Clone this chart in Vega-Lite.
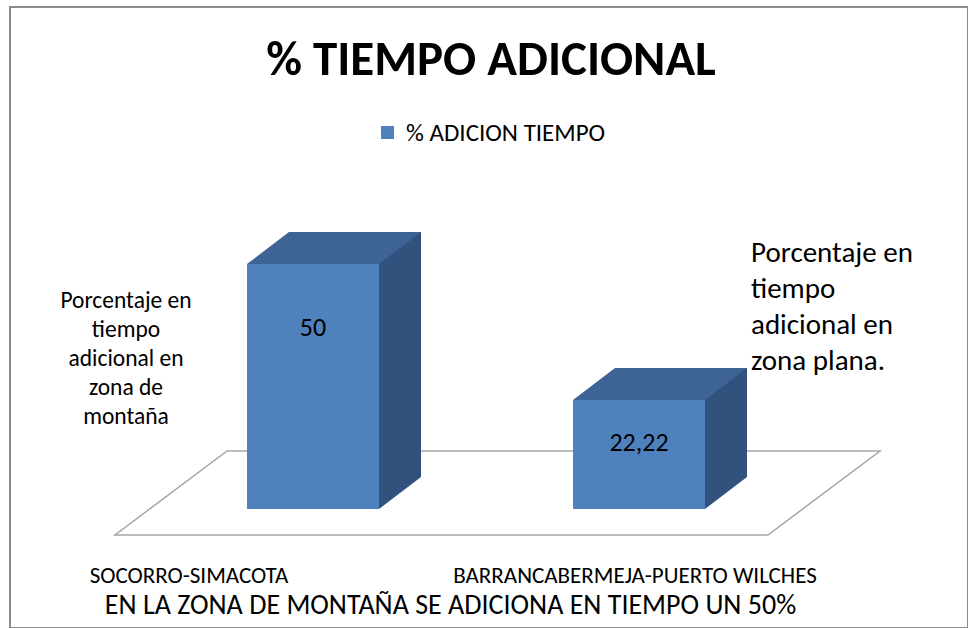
{
  "$schema": "https://vega.github.io/schema/vega-lite/v6.json",
  "width": 958,
  "height": 621,
  "autosize": {"type": "none"},
  "padding": {"left": 10, "top": 7, "right": 0, "bottom": 0},
  "background": "white",
  "view": {"stroke": "#8c8c8c", "strokeWidth": 2},
  "config": {
    "font": "Carlito, Calibri, Lato, sans-serif",
    "locale": {"number": {"decimal": ",", "thousands": ".", "grouping": [3], "currency": ["$", ""]}}
  },
  "title": {
    "text": "% TIEMPO ADICIONAL",
    "fontSize": 49,
    "fontWeight": "bold",
    "color": "#000000",
    "anchor": "middle",
    "baseline": "alphabetic",
    "offset": -117,
    "dx": 2
  },
  "data": {
    "values": [
      {"ruta": "SOCORRO-SIMACOTA", "serie": "% ADICION TIEMPO", "v": 50},
      {"ruta": "BARRANCABERMEJA-PUERTO WILCHES", "serie": "% ADICION TIEMPO", "v": 22.22}
    ]
  },
  "encoding": {
    "x": {
      "field": "ruta",
      "type": "nominal",
      "sort": null,
      "scale": {
        "domain": ["SOCORRO-SIMACOTA", "BARRANCABERMEJA-PUERTO WILCHES"],
        "paddingInner": 0.5951,
        "paddingOuter": 0.7669,
        "align": 0.474
      },
      "axis": {
        "title": "EN LA ZONA DE MONTAÑA SE ADICIONA EN TIEMPO UN 50%",
        "orient": "bottom",
        "domain": false,
        "ticks": false,
        "grid": false,
        "labelAngle": 0,
        "labelFontSize": 23,
        "labelColor": "#000000",
        "labelBaseline": "alphabetic",
        "labelPadding": 0,
        "labelLimit": 0,
        "labelOffset": {"condition": {"test": "datum.value == 'SOCORRO-SIMACOTA'", "value": -124}, "value": -4},
        "offset": -46,
        "titleFontSize": 28,
        "titleFontWeight": "normal",
        "titleColor": "#000000",
        "titleBaseline": "alphabetic",
        "titleAlign": "center",
        "titleX": 440,
        "titleY": 31
      }
    }
  },
  "layer": [
    {
      "transform": [{"filter": "datum.ruta == 'SOCORRO-SIMACOTA'"}],
      "mark": {
        "type": "point",
        "shape": "M -0.33 0.0433 L 0.7583 0.0433 L 0.945 -0.0967 L -0.1433 -0.0967 Z",
        "size": 1440000,
        "filled": false,
        "stroke": "#a6a6a6",
        "strokeWidth": 1.5,
        "opacity": 1
      },
      "encoding": {
        "y": {"datum": 0, "type": "quantitative", "axis": null, "scale": {"domain": [-24.286, 102.449], "nice": false, "zero": false}}
      }
    },
    {
      "mark": {"type": "bar", "color": "#32527E", "width": 42, "xOffset": 87, "yOffset": -32, "y2Offset": -32},
      "encoding": {
        "y": {"field": "v", "type": "quantitative", "axis": null, "scale": {"domain": [-24.286, 102.449], "nice": false, "zero": false}},
        "y2": {"datum": 0}
      }
    },
    {
      "mark": {
        "type": "point",
        "shape": "M 0.6111 -0.2963 L 1 -0.2963 L 0.6111 0 Z",
        "size": 46656,
        "filled": true,
        "color": "#32527E",
        "strokeWidth": 0,
        "opacity": 1
      },
      "encoding": {
        "y": {"datum": 0, "type": "quantitative", "axis": null}
      }
    },
    {
      "mark": {
        "type": "point",
        "shape": "M -0.6111 0 L 0.6111 0 L 1 -0.2963 L -0.2222 -0.2963 Z",
        "size": 46656,
        "filled": true,
        "color": "#3D6494",
        "strokeWidth": 0,
        "opacity": 1
      },
      "encoding": {
        "y": {"field": "v", "type": "quantitative", "axis": null}
      }
    },
    {
      "mark": {"type": "bar"},
      "encoding": {
        "y": {"field": "v", "type": "quantitative", "axis": null},
        "y2": {"datum": 0},
        "color": {
          "field": "serie",
          "type": "nominal",
          "scale": {"range": ["#4F81BD"]},
          "legend": {
            "orient": "none",
            "legendX": 365,
            "legendY": 113,
            "title": null,
            "symbolType": "square",
            "symbolSize": 169,
            "symbolStrokeWidth": 0,
            "labelFontSize": 25,
            "labelColor": "#000000",
            "labelOffset": 6,
            "labelLimit": 0,
            "padding": 0
          }
        }
      }
    },
    {
      "mark": {"type": "text", "fontSize": 26, "color": "#000000", "baseline": "alphabetic", "align": "center", "dy": {"expr": "datum.v > 40 ? 72 : 51"}},
      "encoding": {
        "y": {"field": "v", "type": "quantitative", "axis": null},
        "text": {"field": "v", "type": "quantitative", "format": "~g"}
      }
    },
    {
      "transform": [{"filter": "datum.ruta == 'SOCORRO-SIMACOTA'"}],
      "mark": {"type": "text", "fontSize": 23.5, "color": "#000000", "baseline": "alphabetic", "align": "center", "dx": -187, "lineHeight": 29},
      "encoding": {
        "y": {"datum": 41.02, "type": "quantitative", "axis": null},
        "text": {"value": ["Porcentaje en", "tiempo", "adicional en", "zona de", "montaña"]}
      }
    },
    {
      "transform": [{"filter": "datum.ruta == 'BARRANCABERMEJA-PUERTO WILCHES'"}],
      "mark": {"type": "text", "fontSize": 29, "color": "#000000", "baseline": "alphabetic", "align": "left", "dx": 112, "lineHeight": 36},
      "encoding": {
        "y": {"datum": 50.41, "type": "quantitative", "axis": null},
        "text": {"value": ["Porcentaje en", "tiempo", "adicional en", "zona plana."]}
      }
    }
  ]
}
